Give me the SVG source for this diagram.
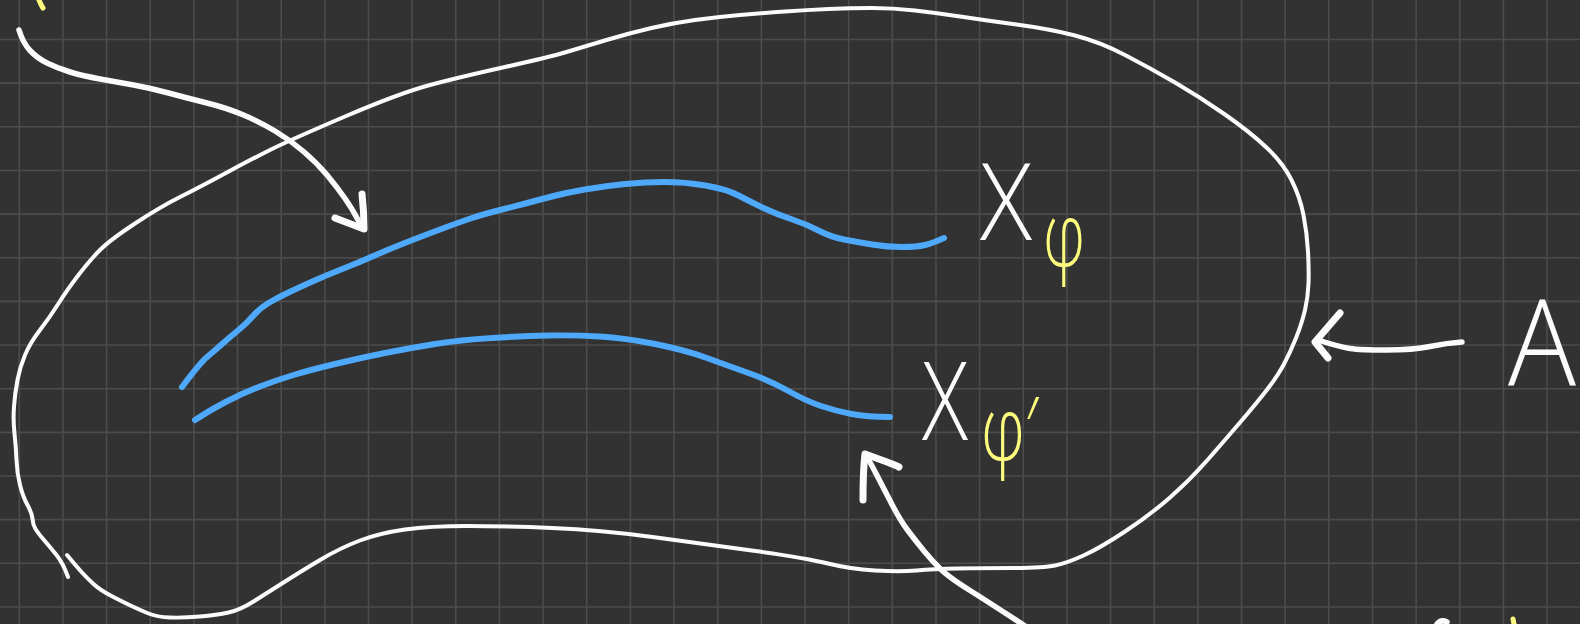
<svg xmlns="http://www.w3.org/2000/svg" width="1580" height="624" viewBox="0 0 1580 624">
<style>
.bg{fill:#323232}
.grid{stroke:#4c4c4c;stroke-width:1.6;fill:none}
.ink{fill:none;stroke:#fbfbfb;stroke-linecap:round;stroke-linejoin:round}
.outline{stroke-width:4}
.arrow{stroke-width:5.5}
.head{stroke-width:7}
.blue{fill:none;stroke:#4ea9fb;stroke-width:6;stroke-linecap:round;stroke-linejoin:round}
.lbl{font-family:"Open Sans","DejaVu Sans",sans-serif;font-weight:300;fill:#fbfbfb}
.sub{fill:#fdfb7e}
.ymark{fill:none;stroke:#fdfb7e;stroke-width:5;stroke-linecap:round}
</style>
<rect class="bg" x="0" y="0" width="1580" height="624"/>
<path class="grid" d="M19.3 0V624M62.95 0V624M106.6 0V624M150.25 0V624M193.9 0V624M237.55 0V624M281.2 0V624M324.85 0V624M368.5 0V624M412.15 0V624M455.8 0V624M499.45 0V624M543.1 0V624M586.75 0V624M630.4 0V624M674.05 0V624M717.7 0V624M761.35 0V624M805 0V624M848.65 0V624M892.3 0V624M935.95 0V624M979.6 0V624M1023.25 0V624M1066.9 0V624M1110.55 0V624M1154.2 0V624M1197.85 0V624M1241.5 0V624M1285.15 0V624M1328.8 0V624M1372.45 0V624M1416.1 0V624M1459.75 0V624M1503.4 0V624M1547.05 0V624M0 39.5H1580M0 83.15H1580M0 126.8H1580M0 170.45H1580M0 214.1H1580M0 257.75H1580M0 301.4H1580M0 345.05H1580M0 388.7H1580M0 432.35H1580M0 476H1580M0 519.65H1580M0 563.3H1580M0 606.95H1580"/>

<g id="region-A">
<path class="ink outline" d="M67,555 Q77,567 82,572.5 Q87,578 93.5,584 Q100,590 111.5,596 Q123,602 131.5,606 Q140,610 148.5,613.5 Q157,617 170,617.5 Q183,618 200,616.5 Q217,615 228.5,612.5 Q240,610 253.5,601.5 Q267,593 283.5,582.5 Q300,572 320,560 Q340,548 360,540.5 Q380,533 405,529.5 Q430,526 467,526 Q504,526 552,528 Q600,530 652.5,537 Q705,544 755.5,551 Q806,558 828,563.5 Q850,569 875,570.5 Q900,572 916.5,570.5 Q933,569 958,568.5 Q983,568 1013,568 Q1043,568 1055,565.5 Q1067,563 1083.5,555.5 Q1100,548 1125,531.5 Q1150,515 1170,497.5 Q1190,480 1207.5,460 Q1225,440 1240,422.5 Q1255,405 1266,391 Q1277,377 1283.5,365 Q1290,353 1296,338 Q1302,323 1305,310 Q1308,297 1308.5,283.5 Q1309,270 1308,251.5 Q1307,233 1303.5,215 Q1300,197 1291.5,180 Q1283,163 1266.5,147.5 Q1250,132 1225,114.5 Q1200,97 1175,82.5 Q1150,68 1125,55 Q1100,42 1075,35.5 Q1050,29 1016.5,24.5 Q983,20 960,16.5 Q937,13 915,10.5 Q893,8 871.5,8 Q850,8 828.5,9 Q807,10 785,11.5 Q763,13 740,15 Q717,17 695,20 Q673,23 651.5,28 Q630,33 606.5,40 Q583,47 566.5,52 Q550,57 505,67 Q460,77 430,85 Q400,93 345,116.5 Q290,140 270,150 Q250,160 225,173.5 Q200,187 180,197 Q160,207 135,223.5 Q110,240 100,250 Q90,260 78.5,275 Q67,290 58.5,303.5 Q50,317 40,330 Q30,343 25,355 Q20,367 17.5,380 Q15,393 14,406.5 Q13,420 14.5,433.5 Q16,447 16.5,460 Q17,473 20,485 Q23,497 27.5,505 Q32,513 32.5,519 Q33,525 35.5,529 Q38,533 44,540 Q50,547 56.5,555 Q63,563 68,577"/>
</g>

<g id="curve-phi">
<path class="blue" d="M182,387 Q200,363 206.5,357.5 Q213,352 221.5,344.5 Q230,337 238.5,330 Q247,323 253.5,315.5 Q260,308 268.5,303 Q277,298 288.5,292.5 Q300,287 313.5,281 Q327,275 343.5,268.5 Q360,262 373.5,256 Q387,250 403.5,243.5 Q420,237 440,229.5 Q460,222 472,218 Q484,214 504,209 Q524,204 544,198.5 Q564,193 584.5,189.5 Q605,186 625,184 Q645,182 665,182 Q685,182 705.5,185.5 Q726,189 738.5,195.5 Q751,202 763.5,208 Q776,214 791,219 Q806,224 818.5,230.5 Q831,237 844,239.5 Q857,242 872,244.5 Q887,247 902,247 Q917,247 925,245 Q933,243 944,238"/>
</g>

<g id="curve-phi-prime">
<path class="blue" d="M195,420 Q210,410 226.5,401.5 Q243,393 260,386.5 Q277,380 293.5,375 Q310,370 335,364 Q360,358 385,353 Q410,348 435,344 Q460,340 492,338 Q524,336 549,335.5 Q574,335 599.5,336.5 Q625,338 655,344 Q685,350 705.5,357.5 Q726,365 748.5,373 Q771,381 788.5,391 Q806,401 821,406 Q836,411 851.5,414 Q867,417 890,417"/>
</g>

<g id="label-x-phi">
<text class="lbl" x="980" y="240" font-size="107" textLength="52" lengthAdjust="spacingAndGlyphs">X</text>
<text class="lbl sub" x="1043" y="266" font-size="88" textLength="42" lengthAdjust="spacingAndGlyphs">φ</text>
</g>

<g id="label-x-phi-prime">
<text class="lbl" x="922" y="440" font-size="108" textLength="46" lengthAdjust="spacingAndGlyphs">X</text>
<text class="lbl sub" x="981" y="460" font-size="88" textLength="58" lengthAdjust="spacingAndGlyphs">φ′</text>
</g>

<g id="label-A">
<text class="lbl" x="1508" y="385" font-size="120" textLength="68" lengthAdjust="spacingAndGlyphs">A</text>
</g>

<g id="fragments">
<path class="ymark" d="M39,0 Q41,5 43,8"/>
<path class="ink arrow" d="M1437,624 Q1441,619 1447,622"/>
<path class="ymark" d="M1513,619 L1514,624"/>
</g>

<g id="connectors">
<path class="ink arrow" d="M19,30 Q23,43 30,50.5 Q37,58 47,63 Q57,68 70,72 Q83,76 100,79 Q117,82 133.5,85 Q150,88 168.5,93 Q187,98 207,103 Q227,108 243.5,115 Q260,122 275,131 Q290,140 303.5,151.5 Q317,163 327,175 Q337,187 345,198.5 Q353,210 358,220 L363,229"/>
<path class="ink head" d="M362,194 Q364,212 364,229 L335,218"/>
<path class="ink arrow" d="M1025,626 Q990,603 970,590.5 Q950,578 941.5,570 Q933,562 924,551 Q915,540 907.5,530 Q900,520 891.5,503.5 Q883,487 876.5,474.5 Q870,462 866,455"/>
<path class="ink head" d="M863,500 Q863,470 865,454 L887,462 Q895,465 899,467"/>
<path class="ink arrow" d="M1462,342 Q1447,343 1430,346.5 Q1413,350 1386.5,350 Q1360,350 1350,348.5 Q1340,347 1318,340"/>
<path class="ink head" d="M1340,313 L1315,342 L1328,358"/>
</g>
</svg>
